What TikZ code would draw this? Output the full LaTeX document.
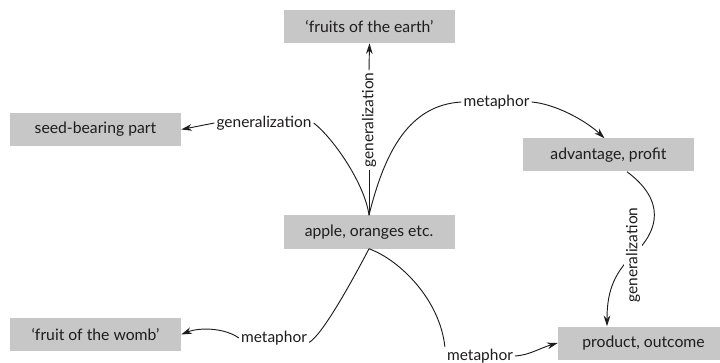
\documentclass[tikz,border=0pt]{standalone}
\usepackage{fontspec}
\setmainfont{Lato}
\usetikzlibrary{arrows.meta,calc}
\definecolor{boxgray}{RGB}{199,199,199}
\definecolor{ink}{RGB}{30,28,28}
\begin{document}
\begin{tikzpicture}[x=0.75pt,y=-0.75pt,
  sense/.style={fill=boxgray, minimum width=128.25pt, minimum height=24.75pt,
    inner sep=0pt, text=ink, font=\fontsize{11.8}{13}\selectfont},
  rel/.style={fill=white, inner sep=1.5pt, text=ink, font=\fontsize{11.6}{13}\selectfont},
  link/.style={draw=ink, line width=0.7pt},
  arr/.style={link, -{Stealth[length=8pt,width=5pt]}}]
\useasboundingbox (0,0) rectangle (720,363);

% senses of "fruit"
\node[sense] (earth) at (369.5,26.5) {‘fruits of the earth’};
\node[sense] (seed)  at (95.5,129.5) {seed-bearing part};
\node[sense] (adv)   at (608.5,155)  {advantage, profit};
\node[sense] (apple) at (369,232)    {apple, oranges etc.};
\node[sense] (prod)  at (643.5,343)  {product, outcome};
\node[sense] (womb)  at (95.5,334.5) {‘fruit of the womb’};

% relation labels
\node[rel, rotate=90] (g1) at (369,120) {generalization};
\node[rel] (g2) at (264,123) {generalization};
\node[rel] (m1) at (496.5,102) {metaphor};
\node[rel] (m2) at (274,338) {metaphor};
\node[rel] (m3) at (480,356) {metaphor};

% upward: generalization to 'fruits of the earth'
\draw[link] (apple.north) -- (g1.west);
\draw[arr] (g1.east) -- (earth.south);

% generalization to seed-bearing part
\draw[link] (apple.north) .. controls (365,185) and (335,140) .. (g2.east);
\draw[arr] (g2.west) -- (seed.east);

% metaphor to advantage, profit
\draw[link] (apple.north) .. controls (385,150) and (410,105) .. (m1.west);
\draw[arr] (m1.east) .. controls (555,104) and (585,120) .. ($(adv.north)+(-4,0)$);

% generalization from advantage to product
\draw[arr] ($(adv.south)+(18.5,0)$) .. controls (665,200) and (660,230) .. (633,255)
  node[rel, rotate=90] (g3) {generalization}
  .. controls (612,275) and (607,295) .. ($(prod.north)+(-36.5,0)$);

% metaphor to 'fruit of the womb'
\draw[link] (apple.south) .. controls (350,285) and (322,335) .. (m2.base east);
\draw[arr] (m2.west) .. controls (225,328) and (200,327) .. (womb.east);

% metaphor to product, outcome
\draw[link] (apple.south) .. controls (400,260) and (440,300) .. (m3.north west);
\draw[arr] (m3.east) .. controls (530,355) and (540,348) .. (prod.west);
\end{tikzpicture}
\end{document}
